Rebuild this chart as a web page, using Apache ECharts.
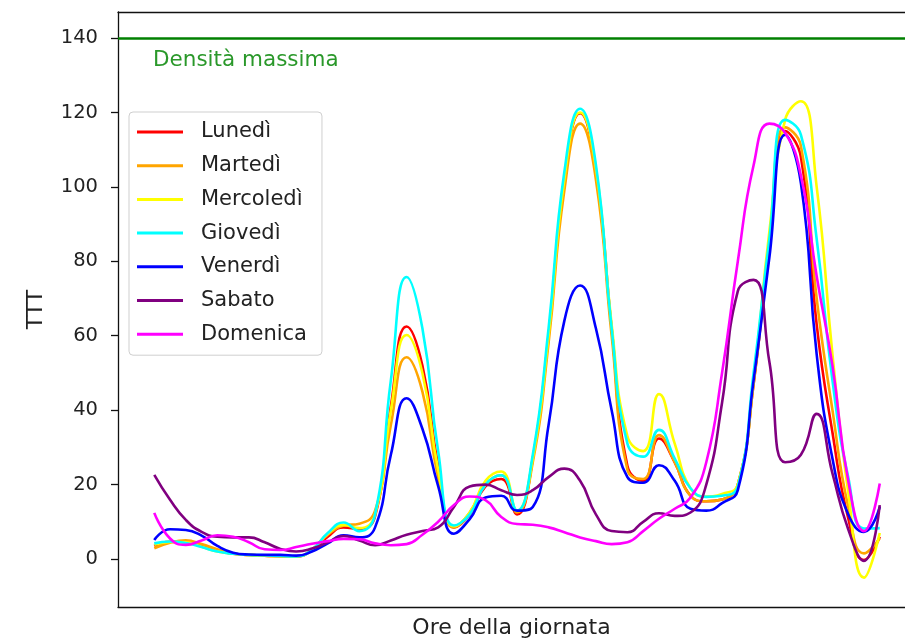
<!DOCTYPE html>
<html>
<head>
<meta charset="utf-8">
<script src="https://cdn.jsdelivr.net/npm/echarts@6/dist/echarts.min.js"></script>
<style>
html,body{margin:0;padding:0;background:#fff;}
#chart{width:905px;height:638px;}
</style>
</head>
<body>
<div id="chart"></div>
<script>
// x positions: hours of the day (half-hour readings)
const hours = [0,0.5,1,1.5,2,2.5,3,3.5,4,4.5,5,5.5,6,6.5,7,7.5,8,8.5,9,9.5,10,10.5,11,11.5,12,12.5,13,13.5,14,14.5,15,15.5,16,16.5,17,17.5,18,18.5,19,19.5,20,20.5,21,21.5,22,22.5,23];

const lunedi = [3.5,4.6,4.6,3.5,2.2,1.4,1.1,0.9,0.8,0.7,2.3,6,8.5,8,11.5,41,62.5,52,25,8.5,12,19.5,21.5,12,27,60,102,119.8,104,62,25,21,32.4,26,17,15.5,16,20,47,84,115,108,63,34,11,-0.3,6];
const martedi = [2.9,4.4,5,4,2.6,1.5,1.1,0.9,0.7,0.7,2.5,6.5,9,9.5,13,36,54.2,45,22,8.5,12.5,20,22.5,12.5,26,58,99,117,102,60,24,21.5,33.3,26,17,15.5,16,20,47,85,116,111,70,40,14,1.5,5.6];
const mercoledi = [3.8,4.6,4.5,3.3,2,1.4,1.1,0.9,0.8,0.7,2.5,6.8,9.1,8.3,12,40,60.2,50,24,8.8,12.5,21,23.5,13,27,60,102,120,105,63,33,29,44.3,31,19,16.8,17.5,20,48,88,118,123,100,55,18,-5,7];
const giovedi = [4.2,4.7,4.3,3.2,2,1.4,1.1,1,0.8,0.7,2.5,7,9.8,7.5,12,48,75.8,62,29,9,12,20,22.5,13,28,62,104,121,106,62,31,27.5,34.7,27,19,16.7,17,19.5,50,86,118,114,86,48,22,8.2,8.3];
const venerdi = [5.1,8,7.8,6.3,3.5,1.7,1.2,1.1,1.1,0.9,2,4.2,6.4,5.8,8.5,28,43.2,35,19.6,6.8,10.7,16.5,17,13,14,36,64,73.5,62,40,22,20.5,25.2,21,13.5,13,15,18.5,48,81,114,101,55,27,12,7.3,14];
const sabato = [22.6,15.9,10.5,7.3,6,5.8,5.8,4.5,2.7,2,2.8,4.5,6.2,5,3.7,5,6.5,7.5,8.5,14,19.5,20,18.5,17.2,18.5,22,24.3,21,12,7.5,7.2,10,12.3,11.6,12.5,20,42,72,75,53,26,28,39,23,8,-0.5,14.5];
const domenica = [12.4,5.5,3.8,5,6.4,6,4.5,2.6,2.4,3.2,4.1,4.8,5.4,5.3,4.2,3.7,4,6.5,10,14.5,16.8,15.8,11.3,9.4,9.2,8.5,7.2,5.8,4.8,4,4.5,7.5,10.8,13.5,16.5,26,50,80,105.8,117,114.5,103,76,52,21,7.5,20.3];

const seriesNames = ['Lunedì','Martedì','Mercoledì','Giovedì','Venerdì','Sabato','Domenica'];
const seriesColors = ['#ff0000','#ffa500','#ffff00','#00ffff','#0000ff','#800080','#ff00ff'];
const seriesValues = [lunedi, martedi, mercoledi, giovedi, venerdi, sabato, domenica];

const yTicks = [0,20,40,60,80,100,120,140];
const maxDensity = 140;
const maxDensityLabel = 'Densità massima';
const xLabel = 'Ore della giornata';
const yLabel = 'TTT';

const FONT = 'DejaVu Sans';

const series = seriesNames.map((name, i) => ({
  name: name,
  type: 'line',
  smooth: 0.5,
  symbol: 'none',
  showSymbol: false,
  color: seriesColors[i],
  lineStyle: {width: 2.6, color: seriesColors[i]},
  data: hours.map((h, j) => [h, seriesValues[i][j]]),
  z: 2 + i
}));

series[0].markLine = {
  silent: true,
  symbol: ['none','none'],
  lineStyle: {color: '#008000', width: 2.6, type: 'solid'},
  label: {
    show: true,
    position: 'insideStartBottom',
    formatter: maxDensityLabel,
    color: '#2a982a',
    fontSize: 21.5,
    fontFamily: FONT,
    distance: [35, 11]
  },
  data: [{yAxis: maxDensity}]
};

const spine = {show: true, onZero: false, lineStyle: {color: '#111', width: 1.3}};

const chart = echarts.init(document.getElementById('chart'), null, {renderer: 'canvas'});
chart.setOption({
  animation: false,
  backgroundColor: '#ffffff',
  grid: {left: 118, top: 12, right: 0, height: 595, show: false, containLabel: false, outerBoundsMode: 'none'},
  legend: {
    data: seriesNames,
    orient: 'vertical',
    left: 129, top: 112,
    icon: 'rect',
    itemWidth: 46, itemHeight: 3,
    itemGap: 9.7,
    padding: [8, 15, 9, 8],
    backgroundColor: 'rgba(255,255,255,0.85)',
    borderColor: '#cfcfcf', borderWidth: 1, borderRadius: 4,
    textStyle: {fontSize: 21, fontFamily: FONT, color: '#222', lineHeight: 24, padding: [0,0,0,13]}
  },
  xAxis: [{
    type: 'value',
    position: 'bottom',
    min: -1.15, max: 23.8,
    name: xLabel,
    nameLocation: 'middle',
    nameGap: 10,
    nameTextStyle: {fontSize: 22, fontFamily: FONT, color: '#222'},
    axisLine: spine,
    axisTick: {show: false},
    axisLabel: {show: false},
    splitLine: {show: false}
  }, {
    type: 'value',
    position: 'top',
    min: -1.15, max: 23.8,
    axisLine: spine,
    axisTick: {show: false},
    axisLabel: {show: false},
    splitLine: {show: false}
  }],
  yAxis: {
    type: 'value',
    min: -12.9, max: 147,
    name: yLabel,
    nameLocation: 'middle',
    nameGap: 71,
    nameTextStyle: {fontSize: 22, fontFamily: FONT, color: '#222'},
    axisLine: spine,
    axisTick: {show: true, length: 7, lineStyle: {color: '#111', width: 1.3}, customValues: yTicks},
    axisLabel: {show: true, margin: 20, fontSize: 19.5, fontFamily: FONT, color: '#222', padding: [7,0,0,0], customValues: yTicks},
    splitLine: {show: false}
  },
  series: series
});
</script>
</body>
</html>
